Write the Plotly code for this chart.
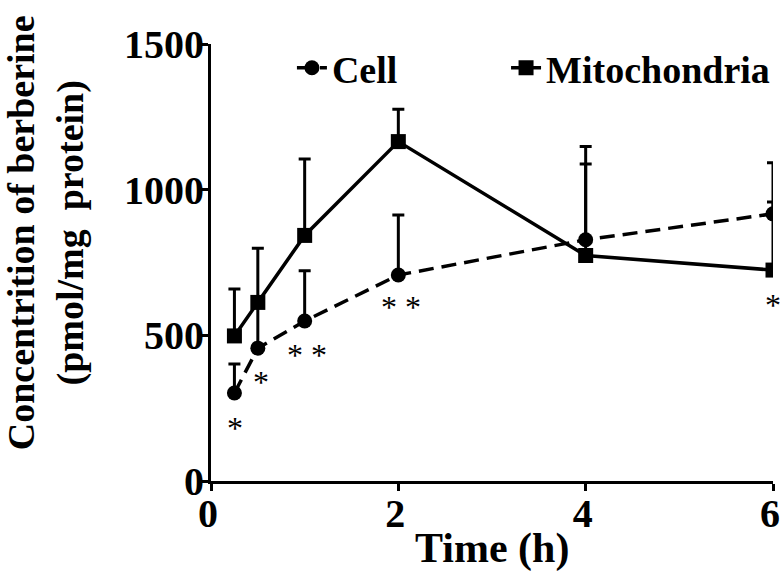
import plotly.graph_objects as go

time_h = [0.25, 0.5, 1, 2, 4, 6]
cell = [302, 456, 549, 707, 828, 917]
cell_err = [100, 150, 173, 206, 260, 175]
mito = [498, 613, 843, 1165, 774, 724]
mito_err = [161, 186, 262, 111, 374, 234]

star_x = [0.26, 0.53, 1.02, 2.03, 6.0]
star_y = [209, 367, 461, 624, 633]
star_txt = ["*", "*", "* *", "* *", "*"]

FONT = "Liberation Serif"
fig = go.Figure()
fig.add_trace(go.Scatter(
    x=time_h, y=mito, name="<b>Mitochondria</b>", mode="lines+markers",
    line=dict(color="black", width=3.5), legend="legend2",
    marker=dict(symbol="square", size=15, color="black"),
    error_y=dict(type="data", array=mito_err, arrayminus=[0]*6, symmetric=False,
                 color="black", thickness=3, width=6),
))
fig.add_trace(go.Scatter(
    x=time_h, y=cell, name="<b>Cell</b>", mode="lines+markers",
    line=dict(color="black", width=3.5, dash="15px,8px"), legend="legend",
    marker=dict(symbol="circle", size=15, color="black"),
    error_y=dict(type="data", array=cell_err, arrayminus=[0]*6, symmetric=False,
                 color="black", thickness=3, width=6),
))

for sx, sy, st in zip(star_x, star_y, star_txt):
    fig.add_annotation(x=sx, y=sy, text=st, showarrow=False, xanchor="center",
                       yanchor="middle", yshift=-8,
                       font=dict(family=FONT, size=32, color="black"))

fig.add_annotation(xref="paper", yref="paper", x=0, y=0.567, xshift=-211+46,
                   text="<b>Concentrition of berberine<br>(pmol/mg  protein)</b>",
                   textangle=-90, showarrow=False, xanchor="center", yanchor="middle",
                   font=dict(family=FONT, size=38, color="black"))

fig.add_annotation(xref="paper", yref="paper", x=0.5, y=0, yshift=-67,
                   text="<b>Time (h)</b>", showarrow=False, xanchor="center",
                   yanchor="middle", font=dict(family=FONT, size=42, color="black"))

leg_common = dict(orientation="h", y=0.945, yanchor="middle", xanchor="left",
                  font=dict(family=FONT, size=38, color="black"),
                  bgcolor="rgba(0,0,0,0)", itemwidth=30)

fig.update_layout(
    width=781, height=579,
    margin=dict(l=211, r=8, t=44, b=98, autoexpand=False),
    paper_bgcolor="white", plot_bgcolor="white",
    font=dict(family=FONT, size=40, color="black"),
    showlegend=True,
    legend=dict(x=0.144, **leg_common),
    legend2=dict(x=0.525, **leg_common),
    xaxis=dict(range=[0, 6], tickvals=[0, 2, 4, 6], ticktext=["<b>0</b>", "<b>2</b>", "<b>4</b>", "<b>6</b>"],
               showline=True, linecolor="black", linewidth=3, ticks="outside",
               ticklen=7, tickwidth=3, tickcolor="black", showgrid=False, zeroline=False,
               ticklabeloverflow="allow", ticklabelstandoff=-12, ticklabelshift=-3,
               automargin=False),
    yaxis=dict(range=[0, 1500], tickvals=[0, 500, 1000, 1500],
               ticktext=["<b>0</b>", "<b>500</b>", "<b>1000</b>", "<b>1500</b>"],
               showline=True, linecolor="black", linewidth=3, ticks="outside",
               ticklen=7, tickwidth=3, tickcolor="black", showgrid=False, zeroline=False,
               ticklabeloverflow="allow", ticklabelstandoff=-11, automargin=False),
)
fig.write_html("out.html", config={"displayModeBar": False},
               post_script="document.body.style.margin='0';")
